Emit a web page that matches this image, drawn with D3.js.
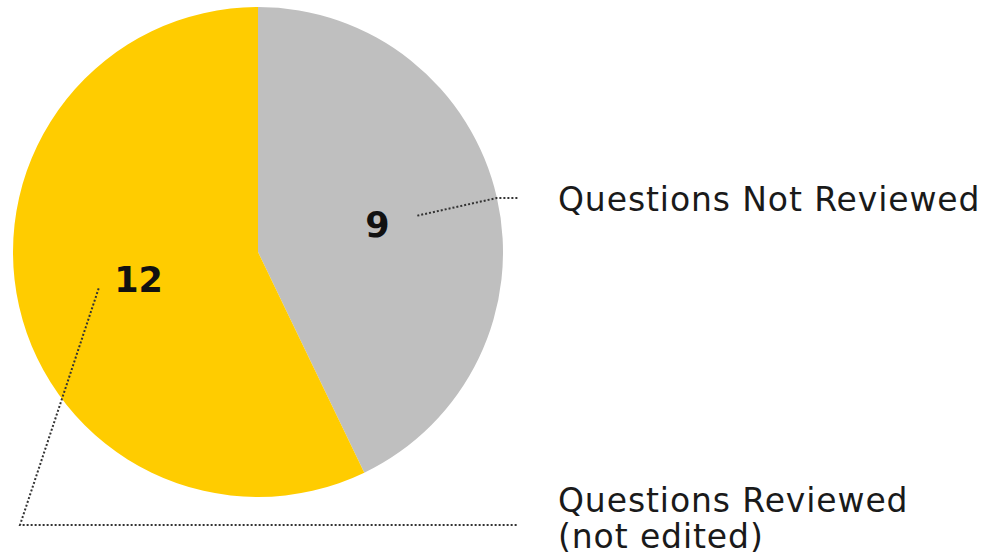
<!DOCTYPE html>
<meta charset="utf-8">
<head>
<style>
  body { margin: 0; background: #fff; }
  text { font-family: "DejaVu Sans", "Open Sans", sans-serif; }
</style>
</head>
<body>
<div id="my_dataviz"></div>
<script src="https://d3js.org/d3.v7.min.js"></script>
<script>
// data
var categories = ["Questions Not Reviewed", "Questions Reviewed (not edited)"];
var values = [9, 12];
var colors = ["#bfbfbf", "#ffcc00"];
// label lines (multi-line text)
var labelLines = [["Questions Not Reviewed"], ["Questions Reviewed", "(not edited)"]];

var width = 988, height = 559;
var cx = 258, cy = 252, radius = 245;

var svg = d3.select("#my_dataviz")
  .append("svg")
    .attr("width", width)
    .attr("height", height);

var g = svg.append("g")
  .attr("transform", "translate(" + cx + "," + cy + ")");

var data = categories.map(function(c, i) { return {name: c, value: values[i], lines: labelLines[i], color: colors[i]}; });

var pie = d3.pie().sort(null).value(function(d) { return d.value; });
var arcs = pie(data);

var arc = d3.arc().innerRadius(0).outerRadius(radius);
var labelArc = d3.arc().innerRadius(radius * 0.5).outerRadius(radius * 0.5);
var lineArc = d3.arc().innerRadius(radius * 0.667).outerRadius(radius * 0.667);
var edgeArc = d3.arc().innerRadius(radius).outerRadius(radius);

g.selectAll("path.slice")
  .data(arcs)
  .enter().append("path")
    .attr("class", "slice")
    .attr("d", arc)
    .attr("fill", function(d) { return d.data.color; });

// value labels
g.selectAll("text.val")
  .data(arcs)
  .enter().append("text")
    .attr("class", "val")
    .attr("transform", function(d) { return "translate(" + labelArc.centroid(d) + ")"; })
    .attr("text-anchor", "middle")
    .attr("dy", "0.36em")
    .style("font-size", "35px")
    .style("font-weight", "bold")
    .attr("fill", "#111")
    .text(function(d) { return d.data.value; });

// leader lines + category labels
var labelX = 558;           // left edge of text
var lineEndX = 518;
var labelY = [198, 525];    // y where the leader line meets the label
var textY = [211, 512];     // baseline of first text line

arcs.forEach(function(d, i) {
  var p0 = lineArc.centroid(d);
  var pts;
  if (i === 0) {
    var p1 = edgeArc.centroid(d);
    pts = [[cx + p0[0], cy + p0[1]], [cx + p1[0], labelY[i]], [lineEndX, labelY[i]]];
  } else {
    pts = [[cx + p0[0], cy + p0[1]], [20, labelY[i]], [lineEndX, labelY[i]]];
  }
  svg.append("path")
    .attr("d", d3.line()(pts))
    .attr("fill", "none")
    .attr("stroke", "#333")
    .attr("stroke-width", 2)
    .attr("stroke-dasharray", "2,2");

  d.data.lines.forEach(function(l, j) {
    svg.append("text")
      .attr("x", labelX)
      .attr("y", textY[i] + j * 36)
      .style("font-size", "33px")
      .style("letter-spacing", "0.9px")
      .attr("fill", "#1a1a1a")
      .text(l);
  });
});
</script>
</body>
